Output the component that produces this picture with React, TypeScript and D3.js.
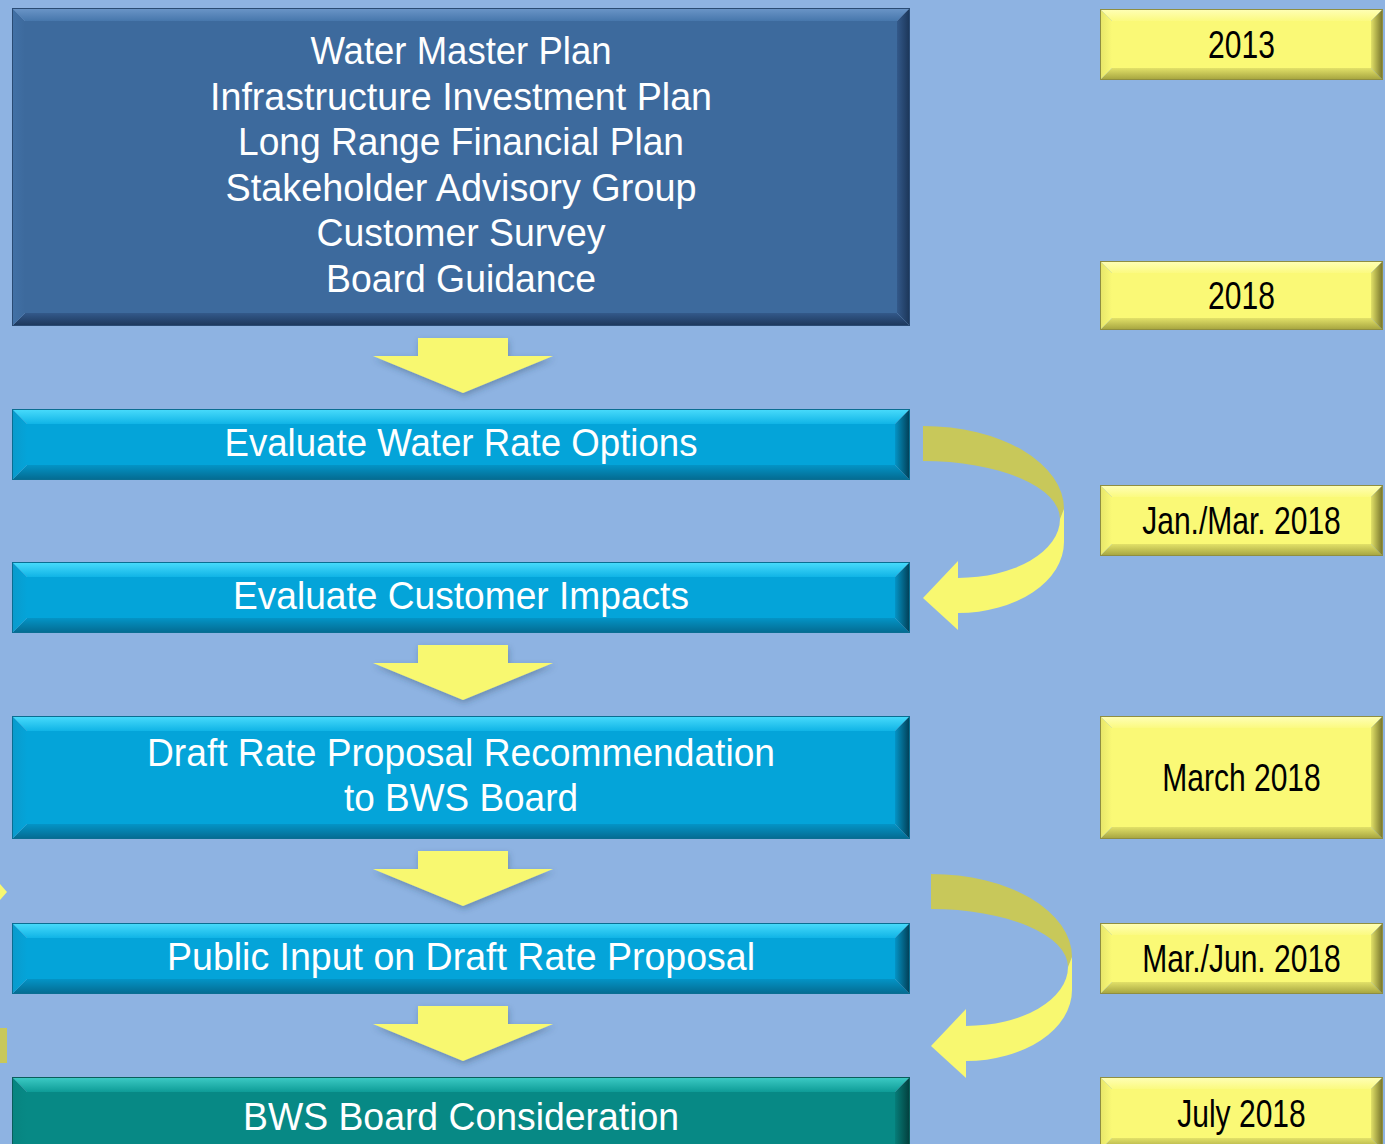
import React from "react";
import * as d3 from "d3";

// ---- data ----
const stepLabels: string[][] = [
  ["Water Master Plan", "Infrastructure Investment Plan", "Long Range Financial Plan", "Stakeholder Advisory Group", "Customer Survey", "Board Guidance"],
  ["Evaluate Water Rate Options"],
  ["Evaluate Customer Impacts"],
  ["Draft Rate Proposal Recommendation", "to BWS Board"],
  ["Public Input on Draft Rate Proposal"],
  ["BWS Board Consideration"],
];
const stepThemes = ["navy", "cyan", "cyan", "cyan", "cyan", "teal"];
const dateLabels: string[] = ["2013", "2018", "Jan./Mar. 2018", "March 2018", "Mar./Jun. 2018", "July 2018"];
// which gaps get a straight down arrow (from step i to i+1)
const downArrowAfter: number[] = [0, 2, 3, 4];

// ---- layout (positions / styling, not data) ----
const W = 1385;
const H = 1144;
const stepRows: [number, number][] = [[8, 326], [409, 480], [562, 633], [716, 839], [923, 994], [1077, 1160]];
const dateRows: [number, number][] = [[9, 80], [261, 330], [485, 556], [716, 839], [923, 994], [1077, 1150]];
const stepLineWidths: number[][] = [[301, 502, 446, 471, 289, 270], [473], [456], [628, 234], [588], [436]];
const curvedArrowOrigins: [number, number][] = [[923, 426], [931, 874]];

const FONT = "'Liberation Sans', Arial, sans-serif";

type Theme = { face: string; topE: string; topI: string; botI: string; botE: string; leftE: string; rightE: string; stroke: string; b: number };
const themes: Record<string, Theme> = {
  navy: { face: "#3D6A9D", topE: "#6C96C8", topI: "#4777AC", botI: "#33598A", botE: "#1C365A", leftE: "#4271A6", rightE: "#1B3557", stroke: "#2A4B74", b: 13 },
  cyan: { face: "#04A4D9", topE: "#4ADCFC", topI: "#10B4E6", botI: "#0494C6", botE: "#046A90", leftE: "#0A9ACC", rightE: "#023C52", stroke: "#0A6E92", b: 15 },
  teal: { face: "#078985", topE: "#3ECCC6", topI: "#0E9C97", botI: "#067D79", botE: "#045A57", leftE: "#078480", rightE: "#033D3B", stroke: "#0A5E5B", b: 15 },
  yellow: { face: "#FAF976", topE: "#FFFFB8", topI: "#FBFA80", botI: "#E2E168", botE: "#A3A23E", leftE: "#E6E56A", rightE: "#727028", stroke: "#8F8E40", b: 12 },
};

function BevelBox({ id, x, y, w, h, theme }: { id: string; x: number; y: number; w: number; h: number; theme: Theme }) {
  const b = theme.b;
  const pts = (arr: [number, number][]) => arr.map((p) => p.join(",")).join(" ");
  return (
    <g>
      <defs>
        <linearGradient id={id + "-t"} x1="0" y1="0" x2="0" y2="1">
          <stop offset="0" stopColor={theme.topE} />
          <stop offset="1" stopColor={theme.topI} />
        </linearGradient>
        <linearGradient id={id + "-b"} x1="0" y1="0" x2="0" y2="1">
          <stop offset="0" stopColor={theme.botI} />
          <stop offset="1" stopColor={theme.botE} />
        </linearGradient>
        <linearGradient id={id + "-l"} x1="0" y1="0" x2="1" y2="0">
          <stop offset="0" stopColor={theme.leftE} />
          <stop offset="1" stopColor={theme.face} />
        </linearGradient>
        <linearGradient id={id + "-r"} x1="0" y1="0" x2="1" y2="0">
          <stop offset="0" stopColor={theme.botI} />
          <stop offset="1" stopColor={theme.rightE} />
        </linearGradient>
      </defs>
      <rect x={x + b} y={y + b} width={w - 2 * b} height={h - 2 * b} fill={theme.face} />
      <polygon points={pts([[x, y], [x + w, y], [x + w - b, y + b], [x + b, y + b]])} fill={`url(#${id}-t)`} />
      <polygon points={pts([[x, y + h], [x + w, y + h], [x + w - b, y + h - b], [x + b, y + h - b]])} fill={`url(#${id}-b)`} />
      <polygon points={pts([[x, y], [x + b, y + b], [x + b, y + h - b], [x, y + h]])} fill={`url(#${id}-l)`} />
      <polygon points={pts([[x + w, y], [x + w - b, y + b], [x + w - b, y + h - b], [x + w, y + h]])} fill={`url(#${id}-r)`} />
      <rect x={x + 0.5} y={y + 0.5} width={w - 1} height={h - 1} fill="none" stroke={theme.stroke} strokeWidth={1} />
    </g>
  );
}

export default function App() {
  const xStep = d3.scaleLinear().domain([0, 1]).range([12, 910]);
  const xDate = d3.scaleLinear().domain([0, 1]).range([1100, 1383]);
  const stepCx = xStep(0.5);
  const dateCx = xDate(0.5);
  const arrowCx = stepCx + 2;

  const lineGap = 45.5;
  const fontSize = 38;

  const downArrowPath = (top: number) => {
    const p = d3.path();
    p.moveTo(arrowCx - 45, top);
    p.lineTo(arrowCx + 45, top);
    p.lineTo(arrowCx + 45, top + 18);
    p.lineTo(arrowCx + 90, top + 18);
    p.lineTo(arrowCx, top + 55);
    p.lineTo(arrowCx - 90, top + 18);
    p.lineTo(arrowCx - 45, top + 18);
    p.closePath();
    return p.toString();
  };

  const curvedBack = "M0,0 A141,83 0 0 1 141,83 L137,93 A137,58 0 0 0 0,35 Z";
  const curvedFront = "M141,83 L141,116 A106,71 0 0 1 35,187 L35,204 L0,172 L35,135 L35,152 A102,59 0 0 0 137,93 Z";

  return (
    <svg width={W} height={H} style={{ position: "absolute", left: 0, top: 0 }} xmlns="http://www.w3.org/2000/svg">
      <defs>
        <filter id="shadow" x="-20%" y="-30%" width="140%" height="170%">
          <feDropShadow dx="1" dy="3" stdDeviation="3" floodColor="#2b3f5c" floodOpacity="0.35" />
        </filter>
      </defs>
      <rect x={0} y={0} width={W} height={H} fill="#8EB3E2" />

      {/* partial arrow at the left edge */}
      <polygon points="0,884 7,892 0,900" fill="#F8F870" />
      <rect x={0} y={1028} width={7} height={35} fill="#C8C85A" />

      {/* step boxes */}
      {stepLabels.map((lines, i) => {
        const [y0, y1] = stepRows[i];
        const x0 = xStep(0);
        const w = xStep(1) - x0;
        const cy = (y0 + y1) / 2;
        const n = lines.length;
        const firstBase = cy - ((n - 1) * lineGap) / 2 + 11;
        return (
          <g key={"s" + i}>
            <BevelBox id={"step" + i} x={x0} y={y0} w={w} h={y1 - y0} theme={themes[stepThemes[i]]} />
            {lines.map((t, j) => (
              <text
                key={j}
                x={stepCx}
                y={firstBase + j * lineGap}
                textAnchor="middle"
                fill="#FFFFFF"
                fontFamily={FONT}
                fontSize={fontSize}
                textLength={stepLineWidths[i][j]}
                lengthAdjust="spacingAndGlyphs"
              >
                {t}
              </text>
            ))}
          </g>
        );
      })}

      {/* date boxes */}
      {dateLabels.map((t, i) => {
        const [y0, y1] = dateRows[i];
        const x0 = xDate(0);
        const w = xDate(1) - x0;
        const cy = (y0 + y1) / 2;
        return (
          <g key={"d" + i}>
            <BevelBox id={"date" + i} x={x0} y={y0} w={w} h={y1 - y0} theme={themes.yellow} />
            <g transform={`translate(${dateCx},${cy + 13}) scale(0.79,1)`}>
              <text x={0} y={0} textAnchor="middle" fill="#000000" fontFamily={FONT} fontSize={38}>
                {t}
              </text>
            </g>
          </g>
        );
      })}

      {/* down arrows */}
      {downArrowAfter.map((i) => (
        <path key={"a" + i} d={downArrowPath(stepRows[i][1] + 12)} fill="#F8F870" filter="url(#shadow)" />
      ))}

      {/* curved arrows */}
      {curvedArrowOrigins.map(([ox, oy], i) => (
        <g key={"c" + i} transform={`translate(${ox},${oy})`}>
          <path d={curvedBack} fill="#C8C85A" />
          <path d={curvedFront} fill="#F8F870" />
        </g>
      ))}
    </svg>
  );
}
